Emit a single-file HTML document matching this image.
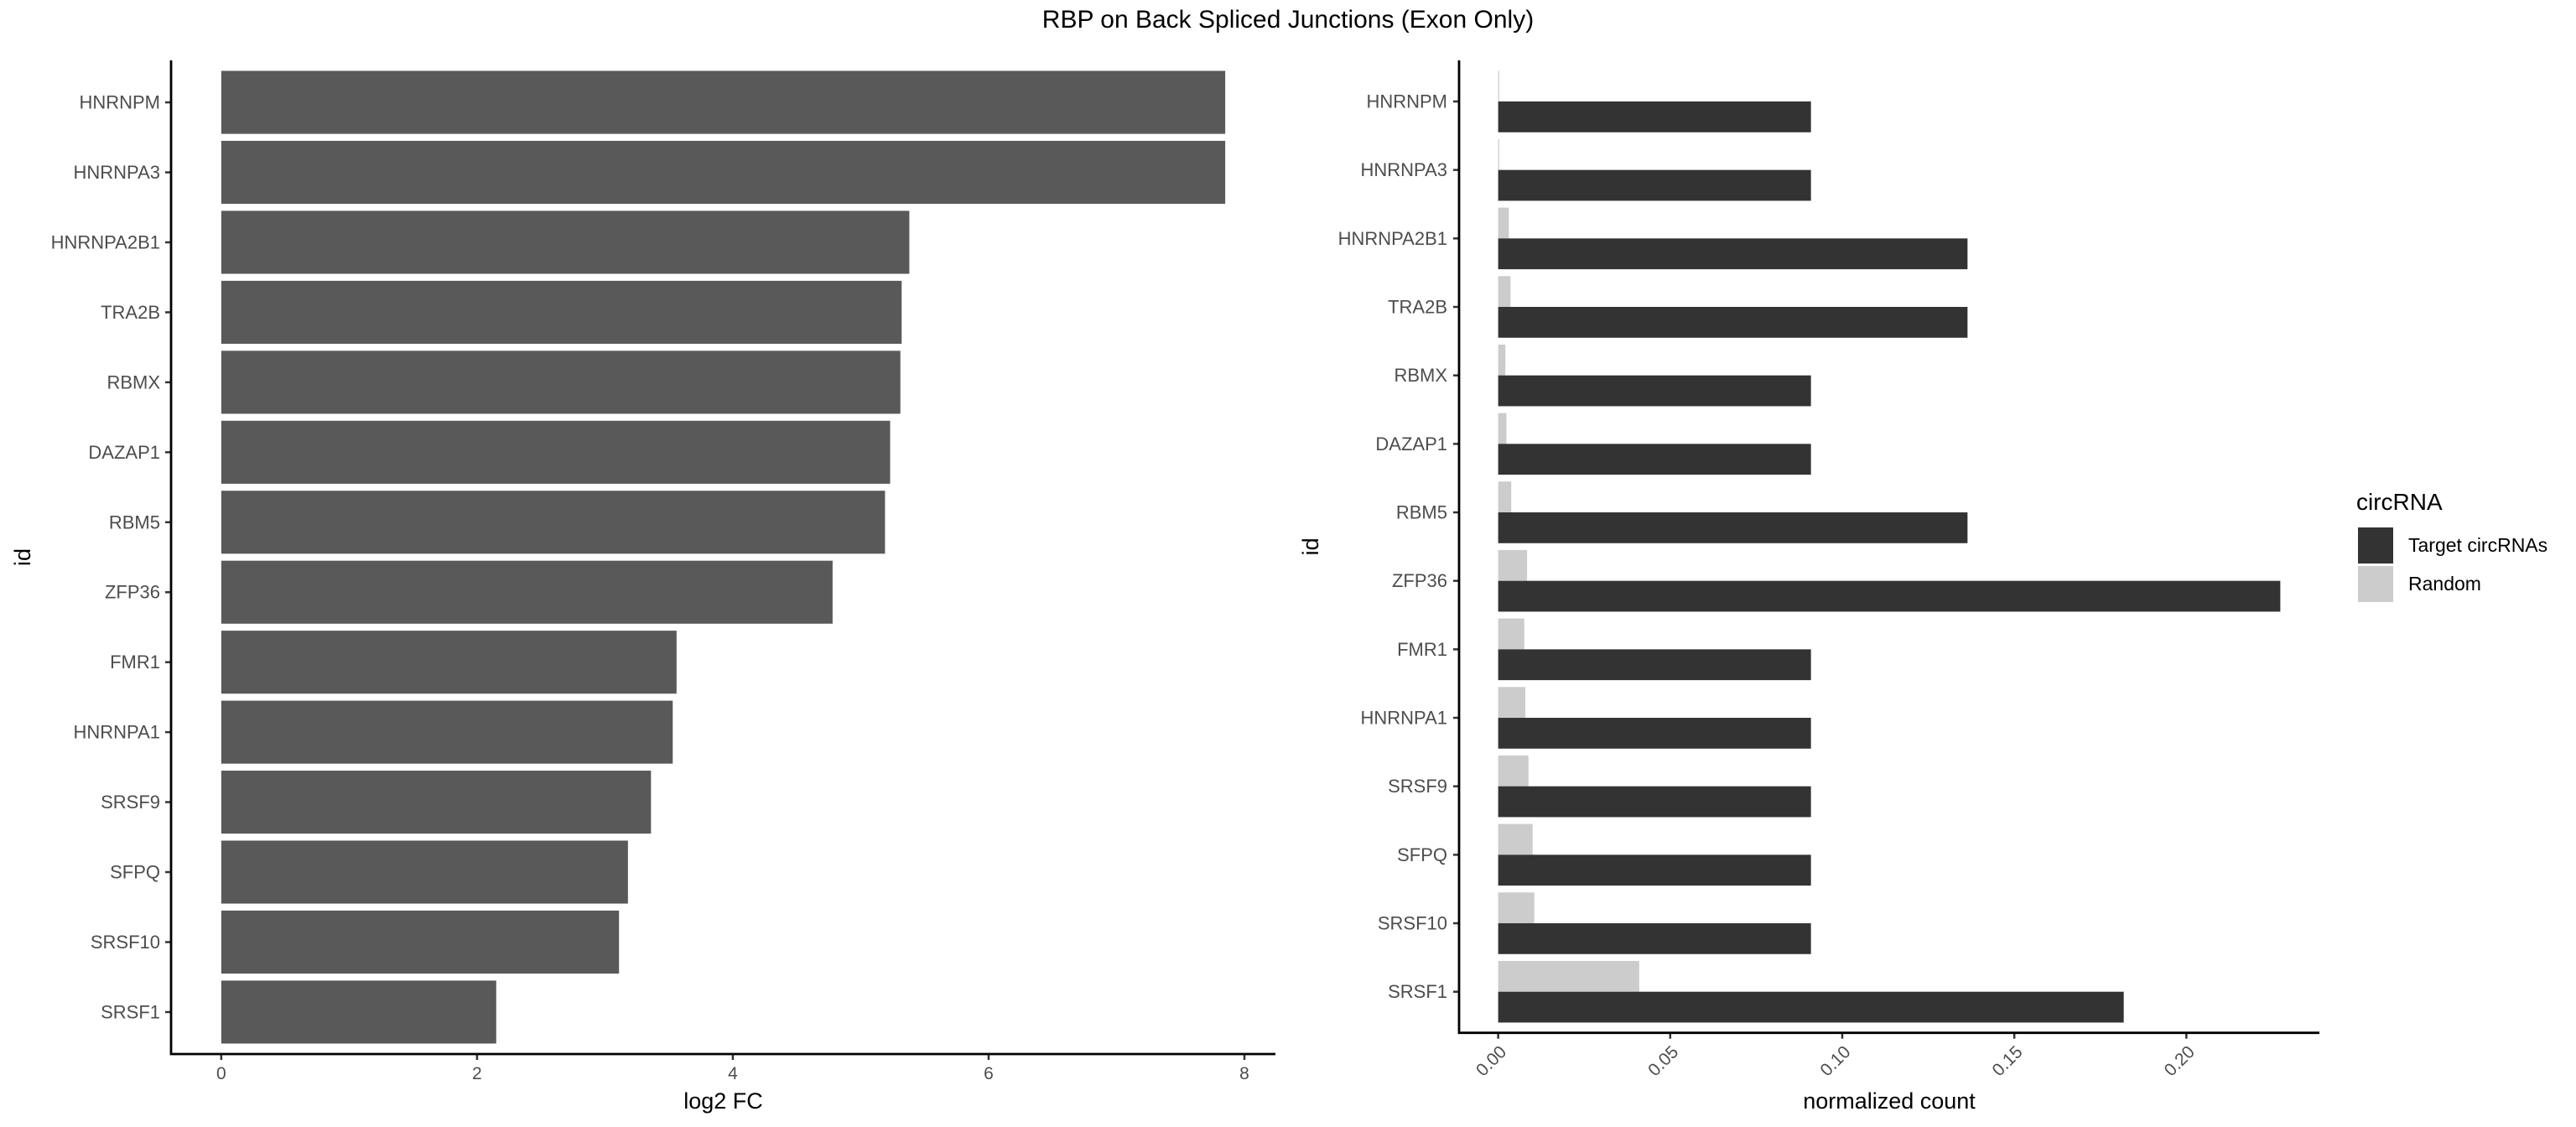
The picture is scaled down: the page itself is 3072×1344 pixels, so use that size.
<!DOCTYPE html>
<html><head><meta charset="utf-8"><style>
html,body{margin:0;padding:0;background:#fff;}
svg{display:block;font-family:"Liberation Sans",Arial,sans-serif;}
</style></head><body>
<svg id="chart" width="3072" height="1344" viewBox="0 0 3072 1344" xmlns="http://www.w3.org/2000/svg">
<rect width="3072" height="1344" fill="#fff"/>
<text x="1536" y="33" font-size="30" text-anchor="middle" fill="#000">RBP on Back Spliced Junctions (Exon Only)</text>
<g id="left"></g>
<g id="right"></g>
<g>
<text x="2810" y="608" font-size="28" fill="#000">circRNA</text>
<rect x="2812" y="629" width="42" height="43" fill="#333333"/>
<rect x="2812" y="675" width="42" height="43" fill="#cccccc"/>
<text x="2872" y="658" font-size="23" fill="#000">Target circRNAs</text>
<text x="2872" y="704" font-size="23" fill="#000">Random</text>
</g>
</svg>
<script>
const categories = ["HNRNPM","HNRNPA3","HNRNPA2B1","TRA2B","RBMX","DAZAP1","RBM5","ZFP36","FMR1","HNRNPA1","SRSF9","SFPQ","SRSF10","SRSF1"];
const log2fc = [7.85,7.85,5.38,5.32,5.31,5.23,5.19,4.78,3.56,3.53,3.36,3.18,3.11,2.15];
const targetCounts = [0.0909,0.0909,0.1364,0.1364,0.0909,0.0909,0.1364,0.2273,0.0909,0.0909,0.0909,0.0909,0.0909,0.1818];
const randomCounts = [0.0003,0.0003,0.0031,0.0036,0.0021,0.0024,0.0038,0.0084,0.0076,0.0079,0.0088,0.0100,0.0105,0.0410];
const leftTicks = [0,2,4,6,8];
const rightTicks = [0,0.05,0.10,0.15,0.20];
const rightTickLabels = ["0.00","0.05","0.10","0.15","0.20"];

const NS="http://www.w3.org/2000/svg";
function mk(parent,tag,attrs){const e=document.createElementNS(NS,tag);for(const k in attrs)e.setAttribute(k,attrs[k]);parent.appendChild(e);return e;}

function panel(g, x0, x1, y0, y1, dmax, pre){
  const n=categories.length;
  const step=(y1-y0)/(n-1+1.2);
  const yc=i=>y0+step*(0.6+i);
  const ex=dmax*0.05;
  const sx=v=>x0+(v+ex)/(dmax+2*ex)*(x1-x0);
  return {step,yc,sx};
}

// LEFT PANEL
(function(){
  const g=document.getElementById('left');
  const x0=204,x1=1521,y0=72,y1=1257;
  const dmax=Math.max(...log2fc);
  const p=panel(g,x0,x1,y0,y1,dmax);
  categories.forEach((c,i)=>{
    const r=mk(g,'rect',{x:p.sx(0),y:p.yc(i)-p.step*0.45,width:p.sx(log2fc[i])-p.sx(0),height:p.step*0.9,fill:'#595959'});
    
    
    const t=mk(g,'text',{x:x0-13,y:p.yc(i)+7.5,'font-size':22,'text-anchor':'end',fill:'#4d4d4d'});
    t.textContent=c;
    
    
    const tk=mk(g,'line',{x1:x0-7,x2:x0,y1:p.yc(i),y2:p.yc(i),stroke:'#333',"stroke-width":2.5});
    
    
  });
  leftTicks.forEach(v=>{
    const tk=mk(g,'line',{x1:p.sx(v),x2:p.sx(v),y1:y1,y2:y1+7,stroke:'#333',"stroke-width":2.5});
    
    
    const t=mk(g,'text',{x:p.sx(v),y:1287,'font-size':21,'text-anchor':'middle',fill:'#4d4d4d'});
    t.textContent=v;
    
    
  });
  const ax=mk(g,'path',{d:`M${x0},${y0} V${y1} H${x1}`,fill:'none',stroke:'#000',"stroke-width":2.8});
  
  
  const xt=mk(g,'text',{x:(x0+x1)/2,y:1322,'font-size':27,'text-anchor':'middle',fill:'#000'});
  xt.textContent='log2 FC';
  
  
  const yt=mk(g,'text',{x:0,y:0,'font-size':27,'text-anchor':'middle',fill:'#000',transform:`translate(36,${(y0+y1)/2}) rotate(-90)`});
  yt.textContent='id';
  
  
})();

// RIGHT PANEL
(function(){
  const g=document.getElementById('right');
  const x0=1740,x1=2766,y0=72,y1=1231.7;
  const dmax=Math.max(...targetCounts,...randomCounts);
  const p=panel(g,x0,x1,y0,y1,dmax);
  const hw=p.step*0.45;
  categories.forEach((c,i)=>{
    const yc=p.yc(i);
    const r1=mk(g,'rect',{x:p.sx(0),y:yc-hw,width:Math.max(0.8,p.sx(randomCounts[i])-p.sx(0)),height:hw,fill:'#cccccc'});
    
    
    const r2=mk(g,'rect',{x:p.sx(0),y:yc,width:p.sx(targetCounts[i])-p.sx(0),height:hw,fill:'#333333'});
    
    
    const t=mk(g,'text',{x:x0-14,y:yc+7.5,'font-size':22,'text-anchor':'end',fill:'#4d4d4d'});
    t.textContent=c;
    
    
    const tk=mk(g,'line',{x1:x0-7,x2:x0,y1:yc,y2:yc,stroke:'#333',"stroke-width":2.5});
    
    
  });
  rightTicks.forEach((v,i)=>{
    const xx=p.sx(v);
    const tk=mk(g,'line',{x1:xx,x2:xx,y1:y1,y2:y1+7,stroke:'#333',"stroke-width":2.5});
    
    
    const t=mk(g,'text',{x:0,y:0,'font-size':21,'text-anchor':'end',fill:'#4d4d4d',transform:`translate(${xx+11},${y1+24}) rotate(-45)`});
    t.textContent=rightTickLabels[i];
    
    
  });
  const ax=mk(g,'path',{d:`M${x0},${y0} V${y1} H${x1}`,fill:'none',stroke:'#000',"stroke-width":2.8});
  
  
  const xt=mk(g,'text',{x:(x0+x1)/2,y:1322,'font-size':27,'text-anchor':'middle',fill:'#000'});
  xt.textContent='normalized count';
  
  
  const yt=mk(g,'text',{x:0,y:0,'font-size':27,'text-anchor':'middle',fill:'#000',transform:`translate(1572,${(y0+y1)/2}) rotate(-90)`});
  yt.textContent='id';
  
  
})();
</script>
</body></html>
